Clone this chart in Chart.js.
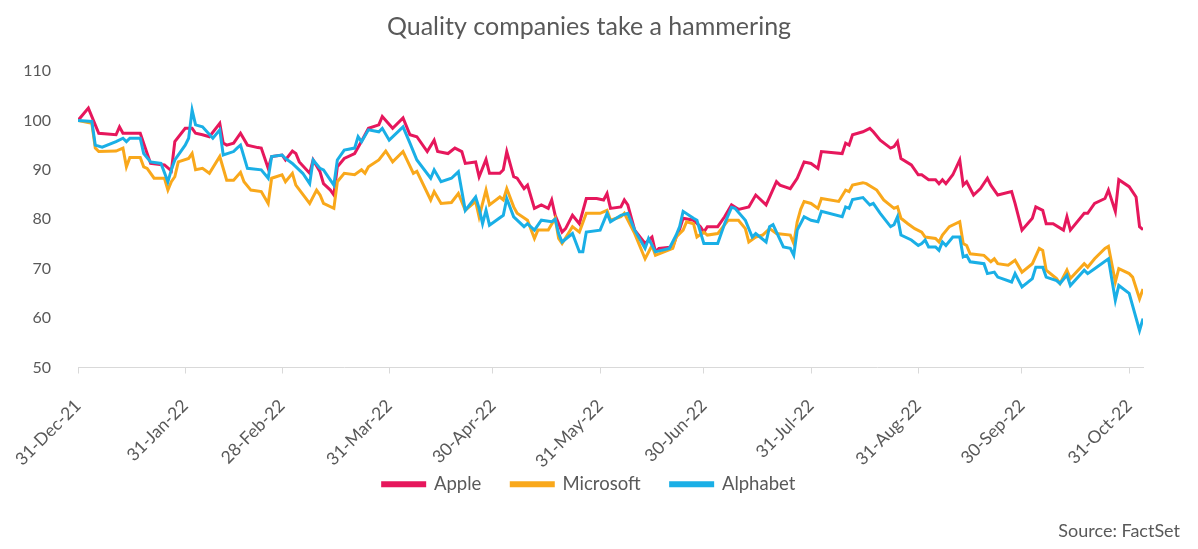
<!DOCTYPE html>
<html>
<head>
<meta charset="utf-8">
<script src="https://cdn.jsdelivr.net/npm/chart.js@4.4.1/dist/chart.umd.min.js"></script>
<style>
  html, body { margin: 0; padding: 0; background: #ffffff; }
  #wrap { width: 1198px; height: 549px; }
</style>
</head>
<body>
<div id="wrap"><canvas id="chart" width="1198" height="549"></canvas></div>
<script>
'use strict';

// ─── 데이터: 31-Dec-21 = day 0 기준 경과일 / 지수(31-Dec-21 = 100) ──────────

const tickDays   = [0, 31, 59, 90, 120, 151, 181, 212, 243, 273, 304];
const tickLabels = ['31-Dec-21', '31-Jan-22', '28-Feb-22', '31-Mar-22', '30-Apr-22', '31-May-22',
                    '30-Jun-22', '31-Jul-22', '31-Aug-22', '30-Sep-22', '31-Oct-22'];

const appleDays = [0,3,6,11,12,13,18,20,21,25,27,28,31,33,34,36,38,41,42,43,45,47,49,52,53,55,56,59,60,62,63,64,67,68,70,
  71,73,74,75,77,80,82,84,87,88,91,94,96,98,101,103,104,107,109,111,112,115,116,118,119,122,123,124,126,127,129,130,132,134,
  136,137,138,140,141,143,145,147,150,152,153,154,157,158,159,161,164,166,167,168,172,173,174,175,178,180,181,182,185,187,
  189,191,194,196,199,202,203,206,208,210,212,214,215,221,222,223,224,227,229,230,232,235,236,237,238,241,243,244,246,248,
  249,250,251,253,255,256,257,259,261,263,264,266,270,271,273,276,277,279,280,282,285,286,287,291,292,294,297,298,300,301,
  304,306,307,308];
const apple = [100,102.5,97.4,97.1,98.7,97.4,97.4,93.3,91.3,91.0,89.8,95.7,98.4,98.4,97.4,97.1,96.7,99.4,95.4,95.0,95.4,97.4,
  95.0,94.5,94.4,90.3,92.7,93.0,92.0,93.8,93.3,91.6,89.3,92.0,89.6,
  87.2,85.9,84.9,90.6,92.3,93.3,95.8,98.4,99.1,100.8,98.4,100.5,97.1,96.7,93.7,96.0,93.7,93.3,94.4,93.7,91.3,91.6,88.6,92.1,
  89.3,89.3,90.0,93.7,88.6,88.3,86.2,86.9,82.2,82.9,
  82.2,83.9,80.8,77.4,78.1,80.8,79.1,84.2,84.2,83.9,85.2,82.2,82.5,83.9,82.9,77.8,75.1,76.4,73.4,74.1,74.4,76.4,78.0,80.2,
  79.8,78.5,77.4,78.5,78.5,80.5,
  82.9,82.0,82.5,84.9,82.9,87.6,86.9,86.2,88.3,91.6,91.3,90.3,93.7,93.3,95.4,95.0,97.1,97.7,98.4,97.7,96.0,94.4,94.7,95.7,
  92.3,91.0,89.0,89.0,88.0,88.0,
  87.2,88.0,87.2,89.0,92.0,86.9,87.6,84.9,86.2,88.3,86.9,84.9,85.6,83.2,77.8,80.2,82.5,81.8,79.1,79.1,77.8,80.5,77.8,81.2,
  81.2,83.2,84.2,85.9,81.6,88.0,
  86.6,84.5,78.5,77.9];

const microsoftDays = [0,4,5,6,11,13,14,15,18,19,20,22,25,26,27,28,29,32,33,34,36,38,41,43,45,47,48,50,53,55,56,59,60,62,63,
  67,69,70,71,74,75,77,80,82,83,84,87,89,91,94,97,98,102,103,105,108,110,112,115,116,118,119,122,123,124,126,127,130,132,133,
  136,138,139,140,143,145,147,151,153,154,157,158,161,164,166,167,172,173,175,176,178,179,181,182,185,188,191,193,194,196,
  198,200,202,206,207,208,209,210,212,214,215,220,222,223,224,227,228,231,233,236,237,238,240,242,244,245,248,249,250,252,
  255,256,257,258,262,264,265,266,269,271,273,276,278,279,280,283,284,286,287,291,292,294,297,298,300,301,304,305,307,308];
const microsoft = [100,99.4,94.4,93.7,93.8,94.4,90.6,92.5,92.5,90.6,90.3,88.3,88.3,85.9,87.6,88.6,91.6,92.3,93.3,90.0,90.3,
  89.3,92.7,87.9,87.9,89.5,87.6,85.9,85.6,83.2,88.3,89.0,87.6,89.3,86.9,
  83.2,85.9,84.9,83.2,82.2,87.6,89.3,89.0,90.0,89.3,90.6,92.0,93.8,91.6,93.7,89.3,89.7,83.9,85.6,83.2,83.4,85.2,81.8,83.6,
  80.5,85.9,82.9,84.5,83.9,86.2,82.5,81.2,79.8,76.1,77.8,
  77.8,80.2,76.1,75.1,78.5,77.4,81.2,81.2,81.8,79.8,80.5,81.2,77.1,72.0,74.7,72.7,74.1,76.4,77.8,79.5,79.1,76.4,77.4,76.8,
  77.1,79.8,79.8,78.1,75.4,76.4,
  76.8,78.1,77.1,76.8,75.1,79.5,82.0,83.6,83.2,82.2,84.2,83.6,85.9,85.6,86.9,87.4,87.2,85.9,83.9,82.2,82.5,80.2,79.1,78.1,
  77.4,76.4,76.1,75.4,76.8,78.5,
  79.5,75.1,74.7,73.0,72.7,71.4,72.0,71.0,70.7,71.7,69.3,71.0,74.1,73.7,69.7,68.0,67.0,69.7,68.0,71.0,70.3,72.0,74.1,74.5,
  67.3,70.0,69.0,68.3,63.9,65.9];

const alphabetDays = [0,4,5,7,11,13,14,15,18,19,21,24,26,27,28,31,32,33,34,36,39,41,42,45,46,47,49,53,55,56,59,60,62,65,67,
  68,70,71,74,75,77,80,81,82,84,87,88,90,94,96,98,102,103,105,108,110,112,115,116,117,118,119,123,124,126,129,130,132,134,
  137,138,139,140,143,145,146,147,151,153,154,157,159,161,164,165,167,171,173,174,175,178,179,180,181,185,187,189,190,193,
  195,196,199,200,201,204,206,207,208,210,212,214,215,221,222,223,224,227,229,230,232,235,236,237,238,241,243,244,245,246,
  248,249,250,251,253,255,256,257,258,262,263,265,266,270,271,273,276,277,279,280,283,284,286,287,291,292,294,298,300,301,
  304,307,308];
const alphabet = [100,99.8,95.0,94.6,95.7,96.4,95.7,96.4,96.4,93.3,91.6,91.3,87.6,90.0,92.0,95.0,96.4,102.1,99.1,98.7,96.4,
  98.1,93.0,93.7,94.4,95.0,90.3,90.0,88.3,92.7,93.0,92.3,91.3,89.3,87.2,
  92.0,90.3,90.0,86.9,92.0,94.0,94.4,96.7,95.7,98.1,97.7,98.4,96.0,98.7,95.4,92.0,88.3,90.0,87.6,88.3,89.6,81.8,84.5,82.2,
  79.1,81.8,78.8,80.8,84.2,80.5,78.5,79.1,77.8,79.8,
  79.5,80.0,77.1,75.4,77.1,73.4,73.4,77.4,77.8,81.2,79.5,80.8,81.2,77.8,74.1,76.1,73.4,74.1,76.8,78.5,81.6,80.2,79.8,77.4,
  75.1,75.1,79.1,82.4,82.2,79.8,
  76.4,77.1,75.4,78.5,78.9,74.4,74.1,72.7,77.8,80.5,79.8,79.5,81.6,80.5,82.5,82.2,84.0,84.4,82.9,83.2,81.2,78.5,78.9,80.5,
  76.8,75.8,74.7,75.1,75.8,74.4,
  74.4,73.7,75.4,74.7,76.4,76.4,72.4,72.7,71.4,71.0,69.0,69.3,68.3,67.3,69.0,66.3,68.0,70.3,70.3,68.3,67.6,67.0,68.7,66.6,
  69.7,69.0,70.0,72.0,63.6,66.6,
  65.0,57.5,59.9];

const sourceText = 'Source: FactSet';

// ─── 스타일 상수 ────────────────────────────────────────────────────────────

const FONT  = 'Lato, "Open Sans", sans-serif';
const GREY  = '#595959';
const AXIS  = '#d9d9d9';
const COLOR = { Apple: '#e6175c', Microsoft: '#f9a81b', Alphabet: '#1aafe6' };

function toPoints(days, vals) {
  return days.map((d, i) => ({ x: d, y: vals[i] }));
}

function lineDataset(label, days, vals, order) {
  return {
    label,
    data: toPoints(days, vals),
    borderColor: COLOR[label],
    backgroundColor: COLOR[label],
    borderWidth: 3,
    pointRadius: 0,
    tension: 0,
    order
  };
}

// Excel 처럼 나중 시리즈가 위에 그려지도록 order 역순
const datasets = [
  lineDataset('Apple', appleDays, apple, 3),
  lineDataset('Microsoft', microsoftDays, microsoft, 2),
  lineDataset('Alphabet', alphabetDays, alphabet, 1)
];

// 출처 문구: 캔버스 오른쪽 아래 (차트 영역 밖)
const sourcePlugin = {
  id: 'sourceNote',
  afterDraw(chart) {
    const ctx = chart.ctx;
    ctx.save();
    ctx.font = '18px ' + FONT;
    ctx.fillStyle = GREY;
    ctx.textAlign = 'right';
    ctx.textBaseline = 'middle';
    ctx.fillText(sourceText, 1180, 531);
    ctx.restore();
  }
};

// 축 라벨이 축 박스 밖으로 나가도 잘리지 않게 (레이아웃은 그대로 고정)
const noLabelClip = {
  id: 'noLabelClip',
  beforeDraw(chart) {
    Object.values(chart.scales).forEach(s => { s._computeLabelArea = () => undefined; });
  }
};

new Chart(document.getElementById('chart'), {
  type: 'line',
  data: { datasets },
  plugins: [sourcePlugin, noLabelClip],
  options: {
    responsive: false,
    devicePixelRatio: 1,
    animation: false,
    layout: { padding: { left: 35, right: 55, top: 0, bottom: 45.5 } },
    plugins: {
      title: {
        display: true,
        text: 'Quality companies take a hammering',
        color: GREY,
        font: { family: FONT, size: 25, weight: 'normal' },
        padding: { top: 12, bottom: 29 }
      },
      legend: {
        position: 'bottom',
        labels: {
          color: GREY,
          font: { family: FONT, size: 18.5 },
          boxWidth: 42,
          boxHeight: 3,
          padding: 30,
          sort: (a, b) => a.datasetIndex - b.datasetIndex
        }
      },
      tooltip: { enabled: false }
    },
    scales: {
      x: {
        type: 'linear',
        min: 0,
        max: 308,
        afterBuildTicks: scale => { scale.ticks = tickDays.map(v => ({ value: v })); },
        afterFit: scale => {
          scale.height = 77.5;
          // 회전 라벨 때문에 플롯 영역이 밀리지 않도록
          scale.paddingLeft = 0;
          scale.paddingRight = 0;
        },
        ticks: {
          color: GREY,
          font: { family: FONT, size: 17.5 },
          minRotation: 45,
          maxRotation: 45,
          padding: 22,
          autoSkip: false,
          callback: v => tickLabels[tickDays.indexOf(v)]
        },
        grid: { display: true, drawOnChartArea: false, drawTicks: true, tickLength: 6, color: AXIS },
        border: { display: true, color: AXIS, width: 1 }
      },
      y: {
        min: 50,
        max: 110,
        afterFit: scale => { scale.width = 43; },
        ticks: {
          stepSize: 10,
          color: GREY,
          font: { family: FONT, size: 16 },
          padding: 19
        },
        grid: { display: false },
        border: { display: false }
      }
    }
  }
});
</script>
</body>
</html>
